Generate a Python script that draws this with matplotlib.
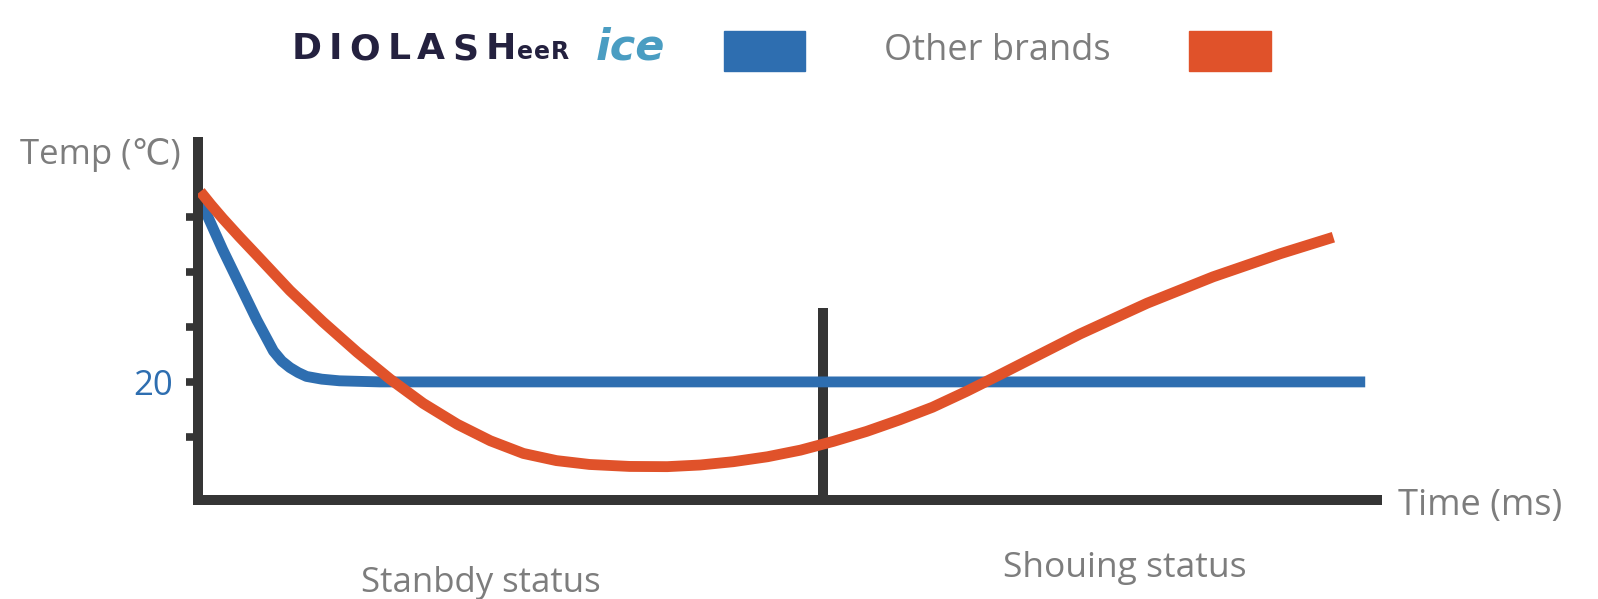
import matplotlib
matplotlib.use("Agg")
import matplotlib.pyplot as plt

# curves (time in ms, temp in C)
blue_t = [0.0, 2.1, 5.0, 6.4, 7.1, 7.8, 8.5, 9.2, 10.5, 12.0, 15.4, 40, 70, 99.0]
blue_y = [37.0, 32.0, 25.6, 22.8, 21.9, 21.3, 20.85, 20.5, 20.25, 20.1, 20.0, 20, 20, 20]

orange_t = [0.2, 1.1, 2.1, 3.5, 5.0, 7.8, 10.6, 13.5, 16.3, 19.1, 22.0, 24.8, 27.6, 30.4, 33.2, 36.6, 39.8,
            42.6, 45.4, 48.3, 51.1, 53.9, 56.7, 59.5, 62.3, 65.2, 68.0, 71.4, 74.8, 80.5, 86.1, 91.8, 96.3]
orange_y = [37.3, 36.1, 34.85, 33.2, 31.5, 28.3, 25.45, 22.7, 20.25, 18.05, 16.15, 14.65, 13.5, 12.85, 12.5, 12.32, 12.3,
            12.45, 12.75, 13.2, 13.8, 14.6, 15.5, 16.55, 17.7, 19.15, 20.65, 22.5, 24.35, 27.15, 29.55, 31.65, 33.15]

divider_t = 53.0
divider_top = 26.7
yticks = [15, 20, 25, 30, 35]

BLUE = "#2e6eb0"
ORANGE = "#e0522a"
DARK = "#353535"
GREY = "#7d7d7d"
NAVY = "#24213f"

W, H = 1598, 599
fig = plt.figure(figsize=(W / 100, H / 100), dpi=100)
ax = fig.add_axes([198 / W, 1 - 500 / H, (1377 - 198) / W, (500 - 142) / H])
ax.set_xlim(0, 100)
ax.set_ylim(9.27, 41.8)

ax.plot([divider_t, divider_t], [9.27, divider_top], color=DARK, lw=7.2, solid_capstyle="butt", zorder=1)
ax.plot(blue_t, blue_y, color=BLUE, lw=7.8, solid_capstyle="butt", solid_joinstyle="round", zorder=2)
ax.plot(orange_t, orange_y, color=ORANGE, lw=7.8, solid_capstyle="butt", solid_joinstyle="round", zorder=3)

for s in ["top", "right"]:
    ax.spines[s].set_visible(False)
for s in ["left", "bottom"]:
    ax.spines[s].set_linewidth(7.2)
    ax.spines[s].set_color(DARK)
ax.set_xticks([])
ax.set_yticks(yticks)
ax.set_yticklabels([""] * len(yticks))
ax.tick_params(axis="y", direction="out", length=8.5, width=5.5, color=DARK)


def txt(x, y, s, **kw):
    return fig.text(x / W, 1 - y / H, s, **kw)


fam = ["Open Sans", "DejaVu Sans"]
txt(20, 155, "Temp (℃)", fontsize=25, color=GREY, family=fam, va="center")
txt(173, 386, "20", fontsize=25, color=BLUE, family=fam, va="center", ha="right")
txt(1398, 506, "Time (ms)", fontsize=26, color=GREY, family=fam, va="center")
txt(481, 583, "Stanbdy status", fontsize=25, color=GREY, family=fam, va="center", ha="center")
txt(1125, 568, "Shouing status", fontsize=25.5, color=GREY, family=fam, va="center", ha="center")

# logo, letters spread a little to get its wide look
r = fig.canvas.get_renderer()
x = 292
gap = 7
for ch in "DIOLASH":
    t = txt(x, 59, ch, fontsize=26, color=NAVY, weight="heavy", family="DejaVu Sans", va="baseline")
    x += t.get_window_extent(r).width + gap
x -= gap - 1
for ch in "eeR":
    t = txt(x, 59, ch, fontsize=17, color=NAVY, weight="bold", family="DejaVu Sans", va="baseline")
    x += t.get_window_extent(r).width + 1
txt(max(x + 6, 596), 59, "ice", fontsize=31, color="#4a9dc2", weight="bold", style="italic",
    family="DejaVu Sans", va="baseline")

fig.patches.append(plt.Rectangle((724 / W, 1 - 71 / H), 81 / W, 40 / H, transform=fig.transFigure, color=BLUE))
txt(997, 51, "Other brands", fontsize=26, color=GREY, family=fam, va="center", ha="center")
fig.patches.append(plt.Rectangle((1189 / W, 1 - 71 / H), 82 / W, 40 / H, transform=fig.transFigure, color=ORANGE))

fig.savefig("out.png", dpi=100)
